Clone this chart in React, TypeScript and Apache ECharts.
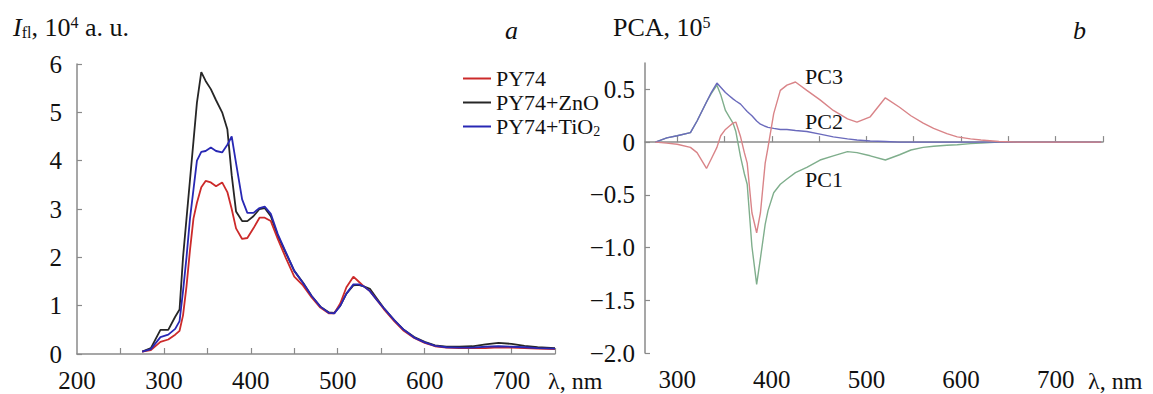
import React, { useEffect, useRef } from "react";
import * as echarts from "echarts";

// ---- Panel a: fluorescence spectra ----
const wavelengthA = [275, 285, 296, 305, 313, 318, 322, 326, 330, 334, 338, 343, 348, 354, 360, 367, 373, 378, 383, 390, 396, 403, 410, 416, 423, 431, 440, 450, 460, 470, 480, 490, 496, 503, 510, 518, 524, 530, 537, 545, 553, 565, 576, 588, 600, 612, 625, 640, 655, 670, 685, 700, 715, 730, 750];
const py74 = [0.05, 0.08, 0.25, 0.3, 0.4, 0.48, 0.8, 1.4, 2.15, 2.8, 3.13, 3.45, 3.58, 3.55, 3.47, 3.55, 3.35, 3.0, 2.6, 2.38, 2.4, 2.6, 2.82, 2.82, 2.75, 2.38, 2.0, 1.6, 1.42, 1.17, 0.96, 0.84, 0.84, 1.05, 1.38, 1.6, 1.5, 1.4, 1.3, 1.12, 0.93, 0.68, 0.48, 0.33, 0.23, 0.16, 0.13, 0.12, 0.12, 0.12, 0.14, 0.13, 0.12, 0.11, 0.1];
const py74ZnO = [0.05, 0.12, 0.5, 0.5, 0.77, 0.92, 2.0, 2.8, 3.6, 4.4, 5.2, 5.83, 5.65, 5.48, 5.25, 5.0, 4.65, 3.7, 2.95, 2.75, 2.75, 2.85, 3.0, 3.02, 2.85, 2.45, 2.1, 1.72, 1.48, 1.2, 0.98, 0.86, 0.85, 1.0, 1.25, 1.42, 1.43, 1.4, 1.35, 1.15, 0.95, 0.7, 0.5, 0.35, 0.25, 0.18, 0.15, 0.15, 0.16, 0.2, 0.23, 0.21, 0.17, 0.14, 0.12];
const py74TiO2 = [0.05, 0.1, 0.35, 0.4, 0.52, 0.68, 1.3, 2.0, 2.8, 3.4, 4.0, 4.18, 4.2, 4.27, 4.2, 4.17, 4.33, 4.5, 3.95, 3.2, 2.92, 2.92, 3.02, 3.05, 2.9, 2.48, 2.12, 1.72, 1.47, 1.2, 0.98, 0.85, 0.84, 1.0, 1.25, 1.44, 1.44, 1.4, 1.3, 1.12, 0.95, 0.7, 0.5, 0.34, 0.24, 0.17, 0.14, 0.13, 0.13, 0.15, 0.16, 0.15, 0.14, 0.12, 0.11];
const seriesNamesA = ["PY74", "PY74+ZnO", "PY74+TiO2"];
const xLabelsA = [200, 300, 400, 500, 600, 700];
const xTicksA = [250, 300, 350, 400, 450, 500, 550, 600, 650, 700, 750];
const yTicksA = [0, 1, 2, 3, 4, 5, 6];

// ---- Panel b: principal components ----
const wavelengthB = [277, 289, 300, 314, 321, 331, 336, 342, 346, 351, 355, 359, 362, 367, 371, 374, 379, 384, 388, 393, 396, 402, 409, 416, 425, 437, 451, 465, 480, 490, 504, 520, 535, 547, 560, 571, 585, 596, 610, 621, 640, 660, 690, 720, 748];
const pc1 = [0, 0.04, 0.06, 0.09, 0.2, 0.38, 0.46, 0.54, 0.45, 0.3, 0.24, 0.18, 0.1, -0.14, -0.3, -0.4, -0.99, -1.35, -1.1, -0.78, -0.65, -0.48, -0.4, -0.35, -0.29, -0.24, -0.17, -0.13, -0.09, -0.1, -0.13, -0.17, -0.12, -0.075, -0.05, -0.04, -0.03, -0.025, -0.015, -0.01, 0, 0, 0, 0, 0];
const pc2 = [0, 0.04, 0.06, 0.09, 0.2, 0.38, 0.47, 0.56, 0.52, 0.47, 0.44, 0.41, 0.39, 0.36, 0.32, 0.29, 0.25, 0.2, 0.17, 0.15, 0.14, 0.13, 0.12, 0.12, 0.11, 0.1, 0.075, 0.05, 0.03, 0.02, 0.01, 0.005, 0, 0, 0, 0, 0, 0, 0, 0, 0, 0, 0, 0, 0];
const pc3 = [0, -0.01, -0.02, -0.05, -0.1, -0.25, -0.16, -0.05, 0.06, 0.12, 0.15, 0.18, 0.19, 0.05, -0.1, -0.2, -0.67, -0.86, -0.67, -0.2, -0.05, 0.27, 0.49, 0.54, 0.57, 0.49, 0.4, 0.3, 0.22, 0.19, 0.24, 0.42, 0.33, 0.25, 0.18, 0.13, 0.08, 0.05, 0.03, 0.02, 0.005, 0, 0, 0, 0];
const pcNames = ["PC1", "PC2", "PC3"];
const xLabelsB = [300, 400, 500, 600, 700];
const xTicksB = [300, 350, 400, 450, 500, 550, 600, 650, 700, 750];
const yTicksB = [-2, -1.5, -1, -0.5, 0, 0.5];

const FONT = "'Liberation Serif', 'Times New Roman', serif";
const AXIS_COLOR = "#8a8a8a";

const zip = (xs: number[], ys: number[]) => xs.map((x, i) => [x, ys[i]]);

export default function App() {
  const ref = useRef<HTMLDivElement>(null);

  useEffect(() => {
    if (!ref.current) return;
    const chart = echarts.init(ref.current, null, { renderer: "svg" });

    const axisLine = { show: true, lineStyle: { color: AXIS_COLOR, width: 1.5 } };
    const axisTickBase = { show: true, inside: true, length: 5, lineStyle: { color: AXIS_COLOR, width: 1.2 } };
    const labelBase = { color: "#111", fontFamily: FONT, fontSize: 25 };

    const fmtB = (v: number) => {
      if (v === 0) return "0";
      const s = v === 0.5 || v === -0.5 ? Math.abs(v).toString() : Math.abs(v).toFixed(1);
      return (v < 0 ? "\u2212" : "") + s;
    };

    const option: any = {
      animation: false,
      backgroundColor: "#ffffff",
      grid: [
        { left: 77, top: 64, width: 478, height: 290, containLabel: false },
        { left: 645, top: 63, width: 458, height: 290, containLabel: false },
      ],
      xAxis: [
        {
          type: "value",
          gridIndex: 0,
          min: 200,
          max: 750,
          axisLine,
          axisTick: { ...axisTickBase, length: 6, customValues: xTicksA },
          axisLabel: { ...labelBase, margin: 14, customValues: xLabelsA },
          splitLine: { show: false },
        },
        {
          type: "value",
          gridIndex: 1,
          min: 266,
          max: 750,
          axisLine,
          axisTick: { ...axisTickBase, length: 6, customValues: xTicksB },
          axisLabel: { ...labelBase, margin: 14, customValues: xLabelsB },
          splitLine: { show: false },
        },
      ],
      yAxis: [
        {
          type: "value",
          gridIndex: 0,
          min: 0,
          max: 6,
          axisLine,
          axisTick: { ...axisTickBase, customValues: yTicksA },
          axisLabel: { ...labelBase, margin: 15, customValues: yTicksA },
          splitLine: { show: false },
        },
        {
          type: "value",
          gridIndex: 1,
          min: -2,
          max: 0.75,
          axisLine,
          axisTick: { ...axisTickBase, customValues: yTicksB },
          axisLabel: { ...labelBase, margin: 10, customValues: yTicksB, formatter: fmtB },
          splitLine: { show: false },
        },
      ],
      legend: {
        data: seriesNamesA,
        left: 458,
        top: 62,
        orient: "vertical",
        icon: "rect",
        itemWidth: 28,
        itemHeight: 2,
        itemGap: 1,
        textStyle: {
          fontFamily: FONT,
          fontSize: 22,
          color: "#111",
          lineHeight: 23,
          rich: {
            base: { fontFamily: FONT, fontSize: 22, color: "#111" },
            sub: { fontFamily: FONT, fontSize: 14, color: "#111", verticalAlign: "bottom", padding: [10, 0, 0, 0] },
          },
        },
        formatter: (name: string) => (name === "PY74+TiO2" ? "{base|PY74+TiO}{sub|2}" : name),
        selectedMode: false,
      },
      series: [
        { name: seriesNamesA[0], type: "line", xAxisIndex: 0, yAxisIndex: 0, data: zip(wavelengthA, py74), showSymbol: false, lineStyle: { color: "#cc2a2a", width: 1.8 }, itemStyle: { color: "#cc2a2a" }, z: 3 },
        { name: seriesNamesA[1], type: "line", xAxisIndex: 0, yAxisIndex: 0, data: zip(wavelengthA, py74ZnO), showSymbol: false, lineStyle: { color: "#262626", width: 1.8 }, itemStyle: { color: "#262626" }, z: 2 },
        { name: seriesNamesA[2], type: "line", xAxisIndex: 0, yAxisIndex: 0, data: zip(wavelengthA, py74TiO2), showSymbol: false, lineStyle: { color: "#2828b4", width: 1.8 }, itemStyle: { color: "#2828b4" }, z: 4 },
        { name: pcNames[0], type: "line", xAxisIndex: 1, yAxisIndex: 1, data: zip(wavelengthB, pc1), showSymbol: false, lineStyle: { color: "#7fae8c", width: 1.4 }, z: 2 },
        { name: pcNames[1], type: "line", xAxisIndex: 1, yAxisIndex: 1, data: zip(wavelengthB, pc2), showSymbol: false, lineStyle: { color: "#6a6abc", width: 1.4 }, z: 3 },
        { name: pcNames[2], type: "line", xAxisIndex: 1, yAxisIndex: 1, data: zip(wavelengthB, pc3), showSymbol: false, lineStyle: { color: "#d98488", width: 1.4 }, z: 4 },
      ],
      graphic: [
        {
          type: "text",
          left: 13,
          top: 14,
          style: {
            text: "{i|I}{sub|fl}{t|, 10}{sup|4}{t| a. u.}",
            rich: {
              i: { fontFamily: FONT, fontSize: 26, fontStyle: "italic", fill: "#111" },
              t: { fontFamily: FONT, fontSize: 26, fill: "#111" },
              sub: { fontFamily: FONT, fontSize: 16, fill: "#111", verticalAlign: "bottom" },
              sup: { fontFamily: FONT, fontSize: 16, fill: "#111", verticalAlign: "top" },
            },
          },
        },
        { type: "text", left: 505, top: 17, style: { text: "a", fontFamily: FONT, fontSize: 26, fontStyle: "italic", fill: "#111" } },
        {
          type: "text",
          left: 613,
          top: 14,
          style: {
            text: "{t|PCA, 10}{sup|5}",
            rich: {
              t: { fontFamily: FONT, fontSize: 26, fill: "#111" },
              sup: { fontFamily: FONT, fontSize: 16, fill: "#111", verticalAlign: "top" },
            },
          },
        },
        { type: "text", left: 1073, top: 17, style: { text: "b", fontFamily: FONT, fontSize: 26, fontStyle: "italic", fill: "#111" } },
        { type: "text", x: 548, y: 381, style: { text: "\u03bb, nm", fontFamily: FONT, fontSize: 24, fill: "#111", verticalAlign: "middle", align: "left" } },
        { type: "text", x: 1088, y: 381, style: { text: "\u03bb, nm", fontFamily: FONT, fontSize: 24, fill: "#111", verticalAlign: "middle", align: "left" } },
        { type: "text", left: 805, top: 65, style: { text: "PC3", fontFamily: FONT, fontSize: 22, fill: "#111" } },
        { type: "text", left: 805, top: 110, style: { text: "PC2", fontFamily: FONT, fontSize: 22, fill: "#111" } },
        { type: "text", left: 805, top: 168, style: { text: "PC1", fontFamily: FONT, fontSize: 22, fill: "#111" } },
      ],
    };

    chart.setOption(option);
    return () => chart.dispose();
  }, []);

  return (
    <div
      ref={ref}
      style={{ position: "fixed", left: 0, top: 0, width: 1153, height: 394, background: "#fff" }}
    />
  );
}
